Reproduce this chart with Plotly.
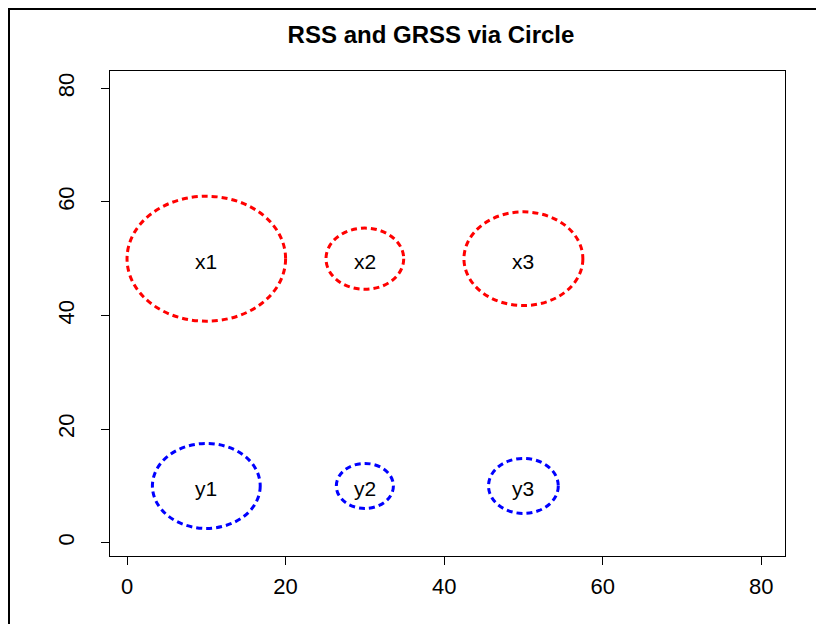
import plotly.graph_objects as go

labels = ["x1", "x2", "x3", "y1", "y2", "y3"]
cx = [10, 30, 50, 10, 30, 50]
cy = [50, 50, 50, 10, 10, 10]
radius = [10, 4.9, 7.5, 6.8, 3.6, 4.4]
colors = ["#FF0000", "#FF0000", "#FF0000", "#0000FF", "#0000FF", "#0000FF"]
tick_vals = [0, 20, 40, 60, 80]
tick_text = ["0", "20", "40", "60", "80"]

Y_STRETCH = 1.1  # vertical aspect of the drawn circles

# page body has an 8px margin; figure is sized to end at the window edge
W, H = 816, 616
ML, MR, MT, MB = 102, 39, 63, 68
pw, ph = W - ML - MR, H - MT - MB

fig = go.Figure()

shapes = []
for x, y, r, c in zip(cx, cy, radius, colors):
    shapes.append(dict(type="circle", xref="x", yref="y",
                       x0=x - r, x1=x + r, y0=y - r * Y_STRETCH, y1=y + r * Y_STRETCH,
                       line=dict(color=c, width=3, dash="6px,4px")))

def px_x(p):
    return (p - ML) / pw
def px_y(p):
    return (H - MB - p) / ph

# outer frame lines (left and top edge of the picture)
shapes.append(dict(type="line", xref="paper", yref="paper",
                   x0=px_x(1), x1=px_x(1), y0=px_y(0), y1=px_y(H + 5),
                   line=dict(color="black", width=2)))
shapes.append(dict(type="line", xref="paper", yref="paper",
                   x0=px_x(0), x1=px_x(W + 5), y0=px_y(1), y1=px_y(1),
                   line=dict(color="black", width=2)))

FONT = "Liberation Sans, Arial"

annotations = [dict(x=x, y=y, text=t, xref="x", yref="y", showarrow=False,
                    yshift=-3, font=dict(family=FONT, size=21, color="black"))
               for x, y, t in zip(cx, cy, labels)]

fig.add_trace(go.Scatter(x=cx, y=cy, mode="markers", marker=dict(opacity=0),
                         hoverinfo="skip", showlegend=False))

axis_common = dict(showgrid=False, zeroline=False, showline=True, mirror=True,
                   linecolor="black", linewidth=1, ticks="outside", ticklen=8,
                   tickcolor="black", tickwidth=1, tickvals=tick_vals, ticktext=tick_text,
                   tickfont=dict(family=FONT, size=22, color="black"))

fig.update_layout(
    width=W, height=H,
    margin=dict(l=ML, r=MR, t=MT, b=MB),
    paper_bgcolor="white", plot_bgcolor="white",
    title=dict(text="<b>RSS and GRSS via Circle</b>", x=423 / W, xanchor="center",
               y=1 - 27 / H, yanchor="middle",
               font=dict(family=FONT, size=24, color="black")),
    xaxis=dict(range=[-2.15, 83.0], ticklabelstandoff=3, **axis_common),
    yaxis=dict(range=[-2.34, 83.05], tickangle=-90, ticklabelstandoff=18, **axis_common),
    shapes=shapes,
    annotations=annotations,
)

fig.write_html("out.html")
